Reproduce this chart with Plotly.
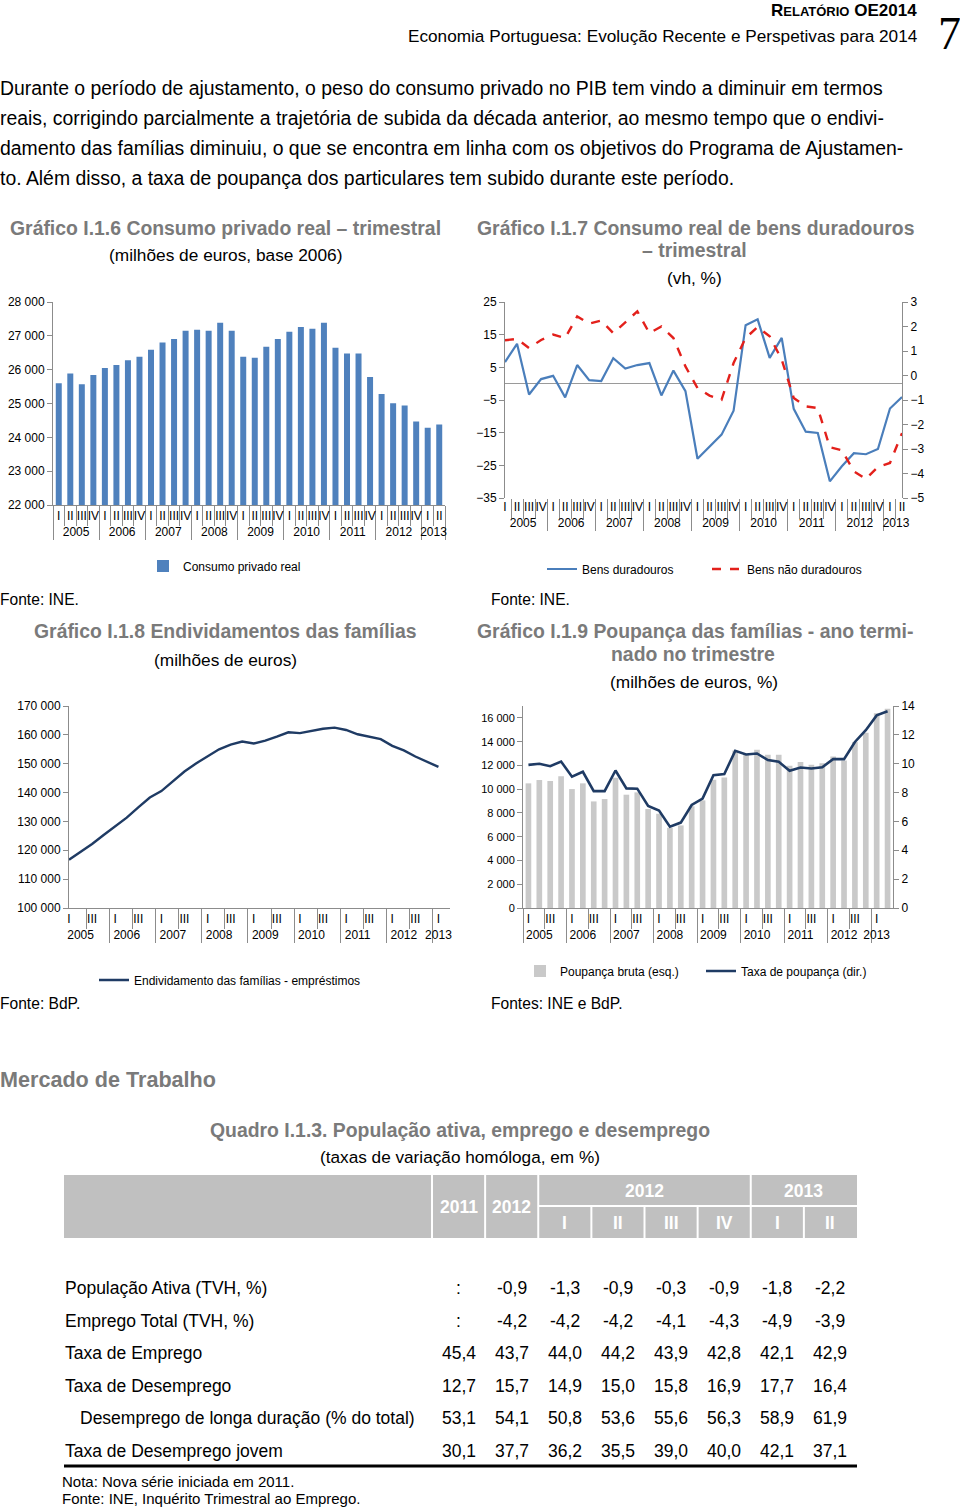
import plotly.graph_objects as go

W, H = 960, 1510
FONT = "Arial, Liberation Sans, Helvetica, sans-serif"
GRAY_T = "#7A7A7A"
AXC = "#8C8C8C"

# ---------------- data ----------------
YEARS = ["2005", "2006", "2007", "2008", "2009", "2010", "2011", "2012", "2013"]
QUARTERS = ["I", "II", "III", "IV"]
N_QUARTERS = 34  # 2005 T1 .. 2013 T2

CONSUMO_PRIVADO = [25600, 25890, 25570, 25840, 26050, 26140, 26280, 26380,
                   26590, 26800, 26910, 27150, 27180, 27150, 27390, 27150,
                   26380, 26350, 26680, 26910, 27120, 27260, 27210, 27390,
                   26650, 26480, 26480, 25780, 25280, 25010, 24940, 24470,
                   24280, 24380]

BENS_DURADOUROS = [6.6, 12.2, -3.3, 1.4, 2.4, -4.2, 5.7, 1.1,
                   0.8, 7.8, 4.6, 5.7, 6.3, -3.6, 4.0, -2.3,
                   -23.0, -19.4, -15.6, -8.3, 17.9, 19.7, 7.9, 14.0,
                   -7.7, -14.7, -15.1, -29.9, -25.3, -21.3, -21.6, -20.0,
                   -7.6, -4.1]

BENS_NAO_DURADOUROS = [1.44, 1.49, 1.12, 1.45, 1.67, 1.53, 2.41, 2.12,
                       2.24, 1.73, 2.17, 2.62, 1.73, 2.00, 1.53, 0.37,
                       -0.51, -0.82, -0.99, 0.51, 1.53, 1.98, 1.60, 0.65,
                       -0.92, -1.26, -1.33, -2.93, -3.05, -3.91, -4.22, -3.73,
                       -3.57, -2.35]

ENDIVIDAMENTO = [116700, 119400, 122200, 125300, 128400, 131300, 134900, 138300,
                 140500, 143800, 147300, 150100, 152500, 155000, 156600, 157700,
                 157000, 158000, 159400, 160900, 160600, 161300, 162100, 162500,
                 161700, 160200, 159400, 158500, 156200, 154600, 152500, 150700,
                 148900]

POUPANCA_BRUTA = [10490, 10770, 10690, 11080, 10010, 10490, 8970, 9170,
                  10970, 9535, 9730, 8330, 7930, 6750, 6950, 8560,
                  9060, 10800, 10990, 13260, 12980, 13320, 12900, 12900,
                  11970, 12280, 12050, 12190, 12760, 12420, 13960, 14750,
                  16400, 16770]

TAXA_POUPANCA = [9.92, 10.00, 9.83, 10.15, 9.10, 9.44, 8.10, 8.10,
                 9.53, 8.29, 8.27, 7.07, 6.75, 5.64, 5.92, 7.14,
                 7.58, 9.21, 9.28, 10.89, 10.64, 10.71, 10.25, 10.13,
                 9.51, 9.74, 9.67, 9.76, 10.32, 10.32, 11.51, 12.32,
                 13.35, 13.63]

PARAGRAPH = [
    "Durante o período de ajustamento, o peso do consumo privado no PIB tem vindo a diminuir em termos",
    "reais, corrigindo parcialmente a trajetória de subida da década anterior, ao mesmo tempo que o endivi-",
    "damento das famílias diminuiu, o que se encontra em linha com os objetivos do Programa de Ajustamen-",
    "to. Além disso, a taxa de poupança dos particulares tem subido durante este período.",
]

TABLE_ROWS = ["População Ativa (TVH, %)", "Emprego Total (TVH, %)", "Taxa de Emprego",
              "Taxa de Desemprego", "Desemprego de longa duração (% do total)",
              "Taxa de Desemprego jovem"]
TABLE_INDENT = [False, False, False, False, True, False]
TABLE_VALUES = [
    [None, -0.9, -1.3, -0.9, -0.3, -0.9, -1.8, -2.2],
    [None, -4.2, -4.2, -4.2, -4.1, -4.3, -4.9, -3.9],
    [45.4, 43.7, 44.0, 44.2, 43.9, 42.8, 42.1, 42.9],
    [12.7, 15.7, 14.9, 15.0, 15.8, 16.9, 17.7, 16.4],
    [53.1, 54.1, 50.8, 53.6, 55.6, 56.3, 58.9, 61.9],
    [30.1, 37.7, 36.2, 35.5, 39.0, 40.0, 42.1, 37.1],
]
TABLE_ANNUAL = ["2011", "2012"]
TABLE_GROUPS = ["2012", "2013"]
TABLE_QUARTERS = ["I", "II", "III", "IV", "I", "II"]


# ---------------- helpers ----------------
def px(x):
    return x / W


def py(y):
    return 1 - y / H


def dom_x(a, b):
    return [px(a), px(b)]


def dom_y(top, bottom):
    return [py(bottom), py(top)]


def categories():
    yrs, qs = [], []
    for i in range(N_QUARTERS):
        yrs.append(YEARS[i // 4])
        qs.append(QUARTERS[i % 4])
    return [yrs, qs]


CATS = categories()


def pad(values):
    return list(values) + [None] * (N_QUARTERS - len(values))


fig = go.Figure()

# Chart I.1.6
fig.add_trace(go.Bar(x=CATS, y=CONSUMO_PRIVADO, name="Consumo privado real",
                     marker=dict(color="#4F81BD", line=dict(width=0)),
                     xaxis="x", yaxis="y", legend="legend"))
# Chart I.1.7
fig.add_trace(go.Scatter(x=CATS, y=BENS_DURADOUROS, name="Bens duradouros", mode="lines",
                         line=dict(color="#4A7EBB", width=2.2), xaxis="x2", yaxis="y2",
                         legend="legend2"))
fig.add_trace(go.Scatter(x=CATS, y=BENS_NAO_DURADOUROS, name="Bens não duradouros",
                         mode="lines", line=dict(color="#E3201B", width=2.4, dash="dash"),
                         xaxis="x2", yaxis="y3", legend="legend2"))
# Chart I.1.8
fig.add_trace(go.Scatter(x=CATS, y=pad(ENDIVIDAMENTO),
                         name="Endividamento das famílias - empréstimos", mode="lines",
                         line=dict(color="#1F3B64", width=2.4), xaxis="x3", yaxis="y4",
                         legend="legend3"))
# Chart I.1.9
fig.add_trace(go.Bar(x=CATS, y=POUPANCA_BRUTA, name="Poupança bruta (esq.)",
                     marker=dict(color="#C9C9C9", line=dict(width=0)),
                     xaxis="x4", yaxis="y5", legend="legend4"))
fig.add_trace(go.Scatter(x=CATS, y=TAXA_POUPANCA, name="Taxa de poupança (dir.)",
                         mode="lines", line=dict(color="#1F3B64", width=2.6),
                         xaxis="x4", yaxis="y6", legend="legend4"))


def xcat(domain, anchor, showline=True, step=1):
    return dict(type="multicategory", domain=domain, anchor=anchor, automargin=False,
                tickmode="linear", tick0=0, dtick=step,
                showdividers=True, dividercolor=AXC, dividerwidth=1,
                ticks="outside", tickson="boundaries", ticklen=20, tickcolor=AXC,
                tickfont=dict(size=12, color="#000000"), tickangle=0,
                showgrid=False, zeroline=False, showline=showline, linecolor=AXC)


def yax(domain, anchor, rng, dtick, tick0=None, side="left", overlaying=None, fmt=",d",
        size=12, zeroline=False):
    d = dict(domain=domain, anchor=anchor, range=rng, dtick=dtick, side=side,
             automargin=False,
             showgrid=False, showline=True, linecolor=AXC, ticks="outside", ticklen=5,
             tickcolor=AXC, tickfont=dict(size=size, color="#000000"), tickformat=fmt,
             zeroline=zeroline, zerolinecolor="#9A9A9A", zerolinewidth=1)
    if tick0 is not None:
        d["tick0"] = tick0
    if overlaying:
        d["overlaying"] = overlaying
        d.pop("domain")
    return d


fig.update_layout(
    width=W, height=H, margin=dict(l=0, r=0, t=0, b=0, autoexpand=False),
    paper_bgcolor="white", plot_bgcolor="rgba(0,0,0,0)",
    font=dict(family=FONT, size=12, color="#000000"),
    separators=", ", bargap=0.48, showlegend=True,
    xaxis=xcat(dom_x(53, 445), "y"),
    yaxis=yax(dom_y(302, 505), "x", [22000, 28000], 1000),
    xaxis2=xcat(dom_x(505, 902), "y2", showline=False),
    yaxis2=yax(dom_y(302, 498), "x2", [-35, 25], 10, tick0=-35, fmt="d", zeroline=True),
    yaxis3=yax(None, "x2", [-5, 3], 1, side="right", overlaying="y2", fmt="d"),
    xaxis3=xcat(dom_x(69, 450), "y4", step=2),
    yaxis4=yax(dom_y(706, 908), "x3", [100000, 170000], 10000),
    xaxis4=xcat(dom_x(523, 893), "y5", step=2),
    yaxis5=yax(dom_y(706, 908), "x4", [0, 17000], 2000, size=11),
    yaxis6=yax(None, "x4", [0, 14], 2, side="right", overlaying="y5", fmt="d"),
)

leg_common = dict(orientation="h", xanchor="left", yanchor="middle",
                  bgcolor="rgba(0,0,0,0)", font=dict(size=12, color="#000000"),
                  itemwidth=30)
fig.update_layout(
    legend=dict(x=px(143), y=py(566), **leg_common),
    legend2=dict(x=px(542), y=py(569), entrywidth=120, **leg_common),
    legend3=dict(x=px(94), y=py(980), **leg_common),
    legend4=dict(x=px(520), y=py(971), entrywidth=136, **leg_common),
)

ann = []


def T(x, y, text, size, color="#000000", bold=False, anchor="left", family=FONT):
    ann.append(dict(x=px(x), y=py(y), xref="paper", yref="paper",
                    text=f"<b>{text}</b>" if bold else text, showarrow=False,
                    xanchor=anchor, yanchor="middle",
                    font=dict(size=size, color=color, family=family)))


# page header
T(919, 10, 'R<span style="font-size:13px">ELATÓRIO</span> OE2014', 17, bold=True, anchor="right")
T(920, 36, "Economia Portuguesa: Evolução Recente e Perspetivas para 2014", 17.2, anchor="right")
T(949, 34, "7", 46, anchor="center", family="Liberation Serif, Times New Roman, serif")

for i, line in enumerate(PARAGRAPH):
    T(-2, 88 + 30 * i, line, 19.4)

# chart titles
T(225, 228, "Gráfico I.1.6 Consumo privado real – trimestral", 19.4, GRAY_T, True, "center")
T(225, 255, "(milhões de euros, base 2006)", 17.3, anchor="center")
T(695, 228, "Gráfico I.1.7 Consumo real de bens duradouros", 19.4, GRAY_T, True, "center")
T(694, 250, "– trimestral", 19.4, GRAY_T, True, "center")
T(694, 278, "(vh, %)", 17.3, anchor="center")
T(225, 631, "Gráfico I.1.8 Endividamentos das famílias", 19.4, GRAY_T, True, "center")
T(225, 660, "(milhões de euros)", 17.3, anchor="center")
T(695, 631, "Gráfico I.1.9 Poupança das famílias - ano termi-", 19.4, GRAY_T, True, "center")
T(693, 654, "nado no trimestre", 19.4, GRAY_T, True, "center")
T(694, 682, "(milhões de euros, %)", 17.3, anchor="center")

T(-2, 599, "Fonte: INE.", 15.6)
T(489, 599, "Fonte: INE.", 15.6)
T(-2, 1003, "Fonte: BdP.", 15.6)
T(489, 1003, "Fontes: INE e BdP.", 15.6)

T(-2, 1079, "Mercado de Trabalho", 21.6, GRAY_T, True)
T(460, 1130, "Quadro I.1.3. População ativa, emprego e desemprego", 19.4, GRAY_T, True, "center")
T(460, 1157, "(taxas de variação homóloga, em %)", 17.2, anchor="center")

# ---------------- table ----------------
TBL_L, TBL_R = 64, 857
LABEL_R = 432
COL_W = (TBL_R - LABEL_R) / 8
HDR_T, HDR_M, HDR_B = 1175, 1206, 1238
ROW_Y0, ROW_DY = 1288, 32.5
HDR_FILL = "#C0C0C0"

shapes = [dict(type="rect", xref="paper", yref="paper", x0=px(TBL_L), x1=px(TBL_R),
               y0=py(HDR_B), y1=py(HDR_T), fillcolor=HDR_FILL, line=dict(width=0))]


def vline(x, y0, y1, color="white", width=2):
    shapes.append(dict(type="line", xref="paper", yref="paper", x0=px(x), x1=px(x),
                       y0=py(y0), y1=py(y1), line=dict(color=color, width=width)))


for k in [0, 1, 2, 6]:
    vline(LABEL_R + COL_W * k, HDR_T, HDR_B)
for k in [3, 4, 5, 7]:
    vline(LABEL_R + COL_W * k, HDR_M, HDR_B)
shapes.append(dict(type="line", xref="paper", yref="paper", x0=px(LABEL_R + 2 * COL_W),
                   x1=px(TBL_R), y0=py(HDR_M), y1=py(HDR_M), line=dict(color="white", width=2)))
shapes.append(dict(type="line", xref="paper", yref="paper", x0=px(TBL_L), x1=px(TBL_R),
                   y0=py(1466), y1=py(1466), line=dict(color="#000000", width=3)))


def col_c(k):
    return LABEL_R + COL_W * (k + 0.5)


for k, lab in enumerate(TABLE_ANNUAL):
    T(col_c(k), (HDR_T + HDR_B) / 2, lab, 17.5, "white", True, "center")
T((col_c(2) + col_c(5)) / 2, (HDR_T + HDR_M) / 2, TABLE_GROUPS[0], 17.5, "white", True, "center")
T((col_c(6) + col_c(7)) / 2, (HDR_T + HDR_M) / 2, TABLE_GROUPS[1], 17.5, "white", True, "center")
for j, q in enumerate(TABLE_QUARTERS):
    T(col_c(j + 2), (HDR_M + HDR_B) / 2 + 1, q, 17.5, "white", True, "center")

for r, (lab, vals) in enumerate(zip(TABLE_ROWS, TABLE_VALUES)):
    yy = ROW_Y0 + ROW_DY * r
    T(78 if TABLE_INDENT[r] else 63, yy, lab, 17.5)
    for k, v in enumerate(vals):
        s = ":" if v is None else f"{v:.1f}".replace(".", ",")
        T(col_c(k), yy, s, 17.5, anchor="center")

T(60, 1481, "Nota: Nova série iniciada em 2011.", 15)
T(60, 1498, "Fonte: INE, Inquérito Trimestral ao Emprego.", 15)

fig.update_layout(annotations=ann, shapes=shapes)

fig.write_html(
    "out.html", config={"displayModeBar": False},
    post_script=("document.body.style.margin='0';"
                 "document.body.style.overflow='hidden';"))
